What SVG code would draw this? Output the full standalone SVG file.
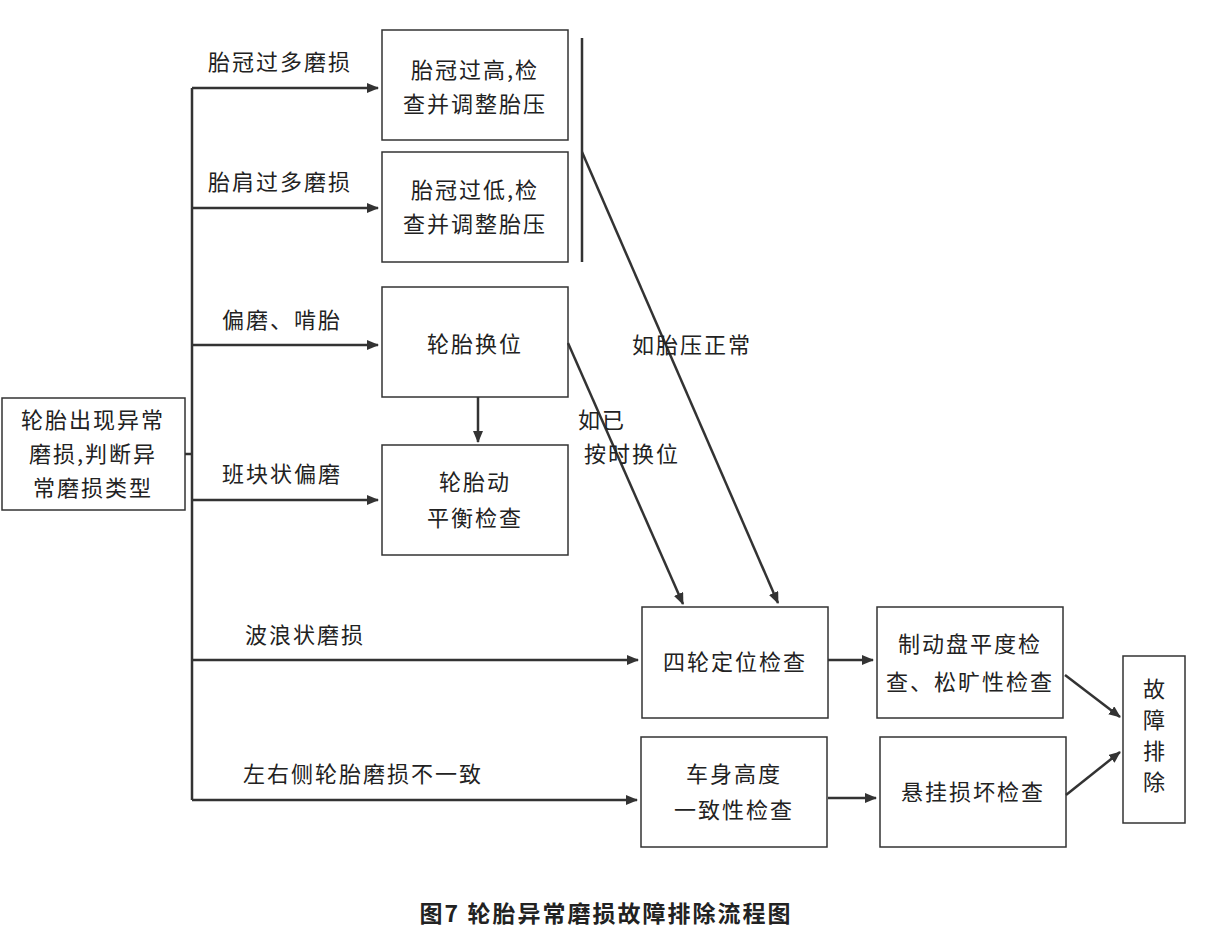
<svg xmlns="http://www.w3.org/2000/svg" width="1212" height="937" viewBox="0 0 1212 937">
<defs>
<marker id="ah" viewBox="0 0 12 10" refX="11" refY="5" markerWidth="12" markerHeight="10" markerUnits="userSpaceOnUse" orient="auto"><path d="M0,0 L12,5 L0,10 Z" fill="#333"/></marker>
<style>
rect{fill:#fff;stroke:#333;stroke-width:1.5}
text{font-family:"Noto Sans CJK SC","Noto Sans",sans-serif;font-size:22px;fill:#222;text-anchor:middle;letter-spacing:2px}
.c line{stroke:#333;stroke-width:2.5;marker-end:url(#ah)}
.p{stroke:#333;stroke-width:2.5;fill:none}
</style>
</defs>
<rect x="0" y="0" width="1212" height="937" style="fill:#fff;stroke:none"/>
<g id="start"><rect x="2" y="398" width="183" height="112"/><text x="93" y="428">轮胎出现异常</text><text x="93" y="462">磨损,判断异</text><text x="93" y="496">常磨损类型</text></g>
<g id="n1"><rect x="382" y="30" width="186" height="110"/><text x="475" y="78">胎冠过高,检</text><text x="475" y="112">查并调整胎压</text></g>
<g id="n2"><rect x="382" y="152" width="186" height="110"/><text x="475" y="198">胎冠过低,检</text><text x="475" y="232">查并调整胎压</text></g>
<g id="n3"><rect x="382" y="287" width="186" height="110"/><text x="475" y="352">轮胎换位</text></g>
<g id="n4"><rect x="382" y="445" width="186" height="110"/><text x="475" y="490">轮胎动</text><text x="475" y="526">平衡检查</text></g>
<g id="n5"><rect x="642" y="607" width="186" height="111"/><text x="735" y="670">四轮定位检查</text></g>
<g id="n6"><rect x="877" y="607" width="186" height="111"/><text x="970" y="652">制动盘平度检</text><text x="970" y="690">查、松旷性检查</text></g>
<g id="n7"><rect x="641" y="737" width="186" height="110"/><text x="734" y="782">车身高度</text><text x="734" y="818">一致性检查</text></g>
<g id="n8"><rect x="880" y="737" width="186" height="110"/><text x="973" y="800">悬挂损坏检查</text></g>
<g id="n9"><rect x="1123" y="656" width="62" height="167"/><text x="1154" y="697" style="letter-spacing:0">故</text><text x="1154" y="728" style="letter-spacing:0">障</text><text x="1154" y="759" style="letter-spacing:0">排</text><text x="1154" y="790" style="letter-spacing:0">除</text></g>
<g id="connectors" class="c">
<path class="p" d="M185,454 H192 M192,88 V800 M582,38 V262"/>
<line x1="192" y1="88" x2="378" y2="88"/>
<line x1="192" y1="208" x2="378" y2="208"/>
<line x1="192" y1="345" x2="378" y2="345"/>
<line x1="192" y1="500" x2="378" y2="500"/>
<line x1="192" y1="660" x2="638" y2="660"/>
<line x1="192" y1="800" x2="637" y2="800"/>
<line x1="478" y1="397" x2="478" y2="442"/>
<line x1="568" y1="343" x2="683" y2="604"/>
<line x1="582" y1="152" x2="778" y2="603"/>
<line x1="828" y1="660" x2="873" y2="660"/>
<line x1="828" y1="798" x2="876" y2="798"/>
<line x1="1065" y1="675" x2="1120" y2="717"/>
<line x1="1066" y1="795" x2="1120" y2="752"/>
<text x="280" y="70">胎冠过多磨损</text>
<text x="280" y="190">胎肩过多磨损</text>
<text x="282" y="328">偏磨、啃胎</text>
<text x="282" y="482">班块状偏磨</text>
<text x="305" y="643">波浪状磨损</text>
<text x="363" y="782">左右侧轮胎磨损不一致</text>
<text x="692" y="353">如胎压正常</text>
<text x="602" y="428">如已</text>
<text x="632" y="462">按时换位</text>
</g>
<text x="606" y="922" style="font-weight:bold;font-size:23px">图7 轮胎异常磨损故障排除流程图</text>
</svg>
